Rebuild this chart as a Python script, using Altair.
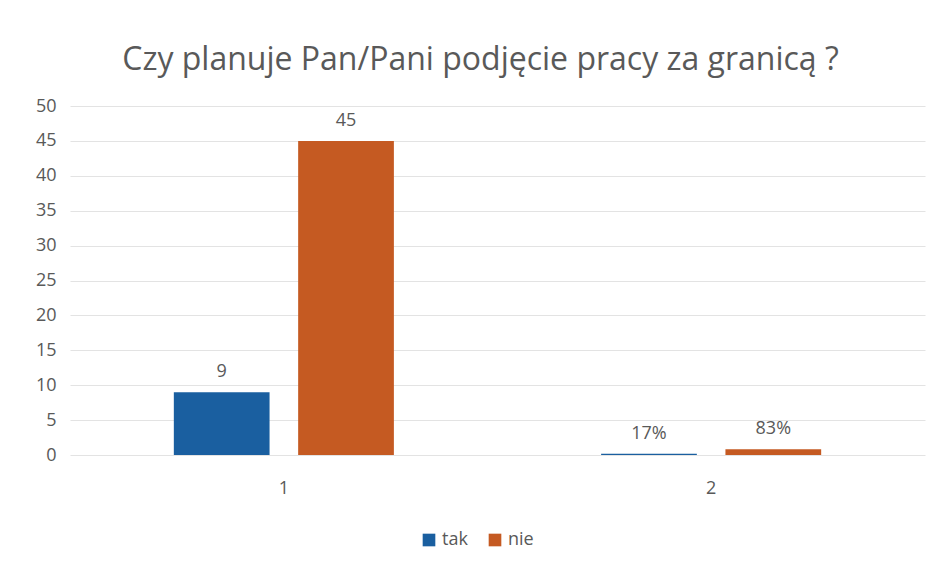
import altair as alt
import pandas as pd

categories = ["1", "2"]
series_names = ["tak", "nie"]
tak_values = [9, 0.17]
nie_values = [45, 0.83]
tak_labels = ["9", "17%"]
nie_labels = ["45", "83%"]
y_ticks = list(range(0, 55, 5))
colors = ["#1a5fa0", "#c55a22"]

rows = []
for i, c in enumerate(categories):
    rows.append({"kat": c, "seria": "tak", "wartosc": tak_values[i], "etykieta": tak_labels[i]})
    rows.append({"kat": c, "seria": "nie", "wartosc": nie_values[i], "etykieta": nie_labels[i]})
df = pd.DataFrame(rows)

FONT = "Open Sans"
GRAY = "#595959"

x = alt.X("kat:N", sort=categories, title=None,
          scale=alt.Scale(paddingInner=0.485, paddingOuter=0.243),
          axis=alt.Axis(labelAngle=0, labelFontSize=18, labelColor=GRAY, labelFont=FONT,
                        ticks=False, grid=False, domain=False, labelPadding=24))
xo = alt.XOffset("seria:N", sort=series_names,
                 scale=alt.Scale(paddingInner=0.23, paddingOuter=0))
y = alt.Y("wartosc:Q", title=None,
          scale=alt.Scale(domain=[0, 50]),
          axis=alt.Axis(values=y_ticks, labelFontSize=18, labelColor=GRAY,
                        labelFont=FONT, ticks=False, domain=False, gridColor="#e3e3e3",
                        labelPadding=14))

bars = alt.Chart(df).mark_bar().encode(
    x=x, xOffset=xo, y=y,
    color=alt.Color("seria:N", sort=series_names,
                    scale=alt.Scale(domain=series_names, range=colors),
                    legend=alt.Legend(title=None, orient="none", direction="horizontal",
                                      legendX=350, legendY=425, symbolType="square",
                                      symbolSize=160, labelFontSize=18, labelColor=GRAY,
                                      labelFont=FONT, columnPadding=18, symbolStrokeWidth=0)),
)

text = alt.Chart(df).mark_text(dy=-20, fontSize=18, color=GRAY, font=FONT).encode(
    x=x, xOffset=xo, y=y, text="etykieta:N"
)

chart = alt.layer(bars, text).properties(
    width=855, height=349,
    background="white",
    title=alt.TitleParams("Czy planuje Pan/Pani podjęcie pracy za granicą ?",
                          fontSize=32, font=FONT, color=GRAY, fontWeight="normal",
                          offset=20, dx=-17),
    autosize=alt.AutoSizeParams(type="none"),
    padding={"left": 62, "top": 98, "right": 10, "bottom": 110},
).configure_view(stroke=None, strokeWidth=0)

chart.save("out.html", embed_options={"renderer": "svg", "actions": False})
